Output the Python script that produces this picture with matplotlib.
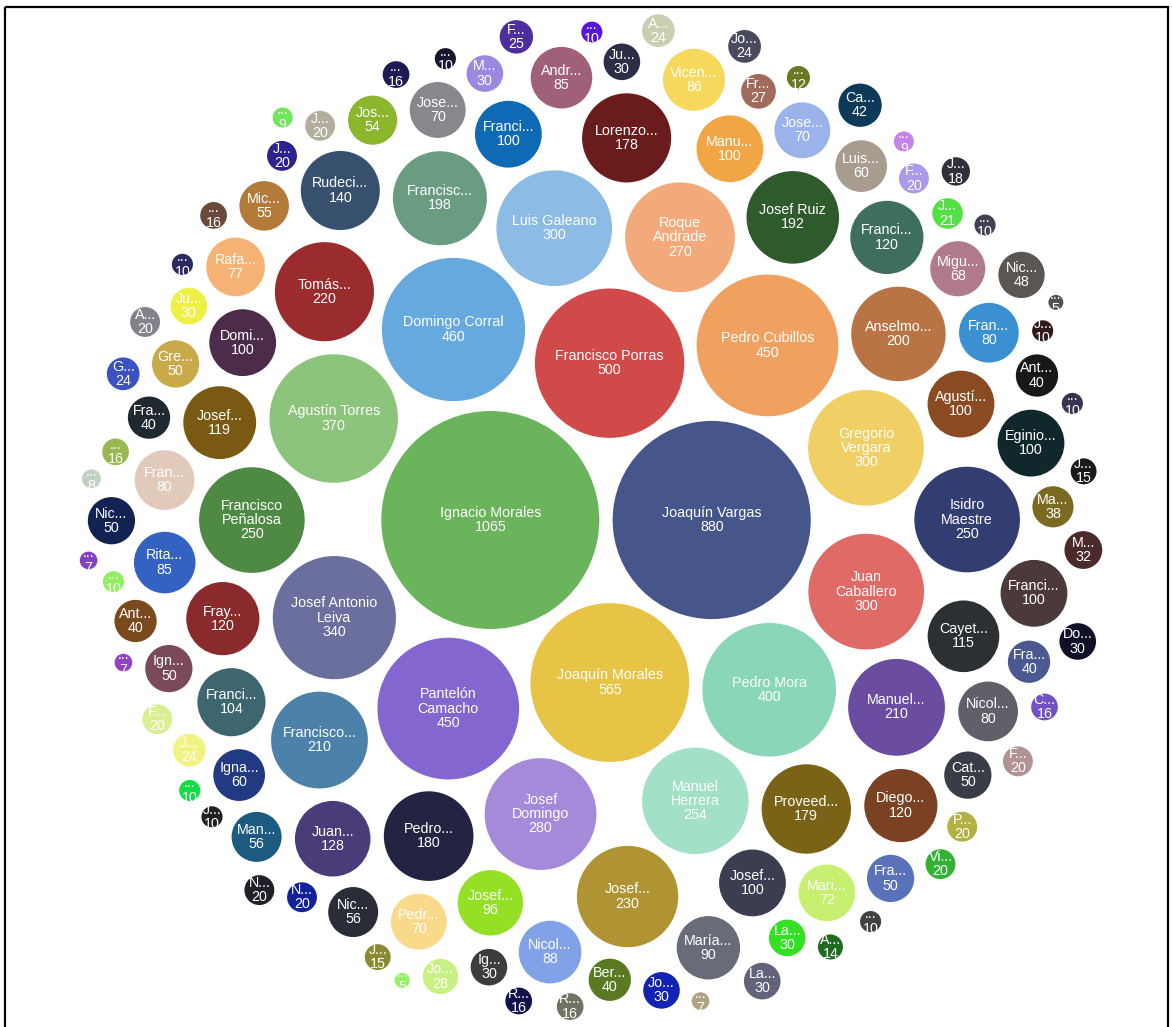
import numpy as np
import matplotlib.pyplot as plt
from matplotlib.patches import Circle, Rectangle

# datos: etiqueta visible, valor, color (empates en el orden original)
nombres = [
    "Ignacio Morales", "Joaquín Vargas", "Joaquín Morales", "Francisco Porras",
    "Domingo Corral", "Pantelón\nCamacho", "Pedro Cubillos", "Pedro Mora",
    "Agustín Torres", "Josef Antonio\nLeiva", "Gregorio\nVergara", "Juan\nCaballero",
    "Luis Galeano", "Josef\nDomingo", "Roque\nAndrade", "Manuel\nHerrera",
    "Francisco\nPeñalosa", "Isidro\nMaestre", "Josef...", "Tomás...",
    "Francisco...", "Manuel...", "Anselmo...", "Francisc...", "Josef Ruiz",
    "Pedro...", "Proveed...", "Lorenzo...", "Rudeci...", "Juan...",
    "Diego...", "Franci...", "Fray...", "Josef...", "Cayet...", "Franci...",
    "Agustí...", "Domi...", "Eginio...", "Franci...", "Franci...", "Josef...", "Manu...",
    "Josef...", "María...", "Nicol...", "Vicen...", "Andr...", "Rita...",
    "Fran...", "Fran...", "Nicol...", "Rafa...", "Mari...",
    "Jose...", "Jose...", "Pedr...", "Migu...", "Igna...", "Luis...",
    "Man...", "Nic...", "Mic...", "Jos...",
    "Cat...", "Fra...", "Gre...", "Ign...", "Nic...", "Nic...", "Ca...",
    "Ant...", "Ant...", "Ber...", "Fra...", "Fra...", "Ma...", "M...",
    "Do...", "Ig...", "Jo...", "Ju...", "La...", "Ju...", "La...", "M...",
    "Jo...", "Fr...", "F...", "A...", "Jo...", "G...", "J...", "J...",
    "A...", "F...", "F...", "P...", "J...", "J...", "N...", "N...", "F...", "Vi...",
    "J...", "C...", "...", "...", "...", "R...", "R...", "J...", "J...", "A...", "...",
    "...", "J...", "J...", "...", "...", "...", "...", "...", "...", "...",
    "...", "...", "...", "...", "...", "...", "...", "...",
]
valores = [
    1065, 880, 565, 500, 460, 450, 450, 400, 370, 340, 300, 300,
    300, 280, 270, 254, 250, 250, 230, 220, 210, 210, 200, 198, 192,
    180, 179, 178, 140, 128, 120, 120, 120, 119, 115, 104,
    100, 100, 100, 100, 100, 100, 100,
    96, 90, 88, 86, 85, 85, 80, 80, 80, 77, 72,
    70, 70, 70, 68, 60, 60, 56, 56, 55, 54,
    50, 50, 50, 50, 50, 48, 42, 40, 40, 40, 40, 40, 38, 32,
    30, 30, 30, 30, 30, 30, 30, 30,
    28, 27, 25, 24, 24, 24, 24, 21,
    20, 20, 20, 20, 20, 20, 20, 20, 20, 20,
    18, 16, 16, 16, 16, 16, 16, 15, 15, 14, 12,
    10, 10, 10, 10, 10, 10, 10, 10, 10, 10,
    9, 9, 8, 7, 7, 7, 5, 5,
]
colores = [
    "#6ab45c", "#46568a", "#e8c446", "#d04a4a", "#66a9df", "#8466d0", "#f0a160", "#8ad6b8",
    "#8cc47c", "#6a6f9e", "#f0d064", "#e06a66", "#8cbce6", "#a48ad8", "#f2aa7a", "#a2e0c8",
    "#4e8a44", "#323e72", "#b09434", "#9a2c2e", "#4c82aa", "#6a4ca0", "#b87444", "#6a9c82",
    "#2e5a2c", "#222442", "#7a6216", "#6a1c1c", "#36506e", "#4a3c78",
    "#7a4222", "#3e6e5c", "#8a2a2c", "#7a5a12", "#2c3032", "#3e6670",
    "#8a4a22", "#4c2c4a", "#10282c", "#4c3a3a", "#0e6ab4", "#3a3e50", "#f2a544",
    "#94e024", "#686c78", "#82a2e8", "#f6d85a", "#a0607a", "#3462c2",
    "#e2cabb", "#3a90d0", "#606068", "#f6b274", "#c8f070",
    "#86888c", "#9cb2ea", "#f8da8a", "#b07a8a", "#223a82", "#a89c8e",
    "#1c5a82", "#2a2c38", "#b47a3a", "#8cb62c",
    "#3a3c48", "#5a72ba", "#c8aa4a", "#7a4a5a", "#122252", "#5c5652", "#0e3a5a",
    "#181818", "#7a4a1c", "#5a7a22", "#202830", "#4a5a90", "#7a6a22", "#4c2a2a",
    "#101028", "#3c3c3c", "#1222b2", "#2c2e46", "#32e024", "#eef044", "#62627a", "#9c88e0",
    "#c8f082", "#a26a5c", "#4c2e9c", "#cacfb2", "#4a4a5e", "#3a52c2", "#f2f282", "#52e044",
    "#82828a", "#aa9aea", "#d8f092", "#b2b244", "#2c2290", "#b2ad9c", "#12229a", "#202028",
    "#b29292", "#32b232",
    "#303038", "#7252c2", "#9ab852", "#6a4a3a", "#1e1a52", "#727262", "#10124e",
    "#8a8a32", "#1a1a1a", "#206a22", "#6a7a22",
    "#161630", "#301a1a", "#222222", "#2a2a62", "#424242", "#5a16d8", "#3a3250",
    "#90f062", "#12e042", "#424252",
    "#c482ea", "#70e65c", "#c2d2c2", "#8242c2", "#b0a282", "#9242c2", "#92f262", "#525252",
]


# empaquetado de círculos (mismo método que d3.packSiblings)
def colocar(b, a, c):
    dx, dy = b[0] - a[0], b[1] - a[1]
    d2 = dx * dx + dy * dy
    if d2:
        a2 = (a[2] + c[2]) ** 2
        b2 = (b[2] + c[2]) ** 2
        if a2 > b2:
            x = (d2 + b2 - a2) / (2 * d2)
            y = np.sqrt(max(0, b2 / d2 - x * x))
            c[0] = b[0] - x * dx - y * dy
            c[1] = b[1] - x * dy + y * dx
        else:
            x = (d2 + a2 - b2) / (2 * d2)
            y = np.sqrt(max(0, a2 / d2 - x * x))
            c[0] = a[0] + x * dx - y * dy
            c[1] = a[1] + x * dy + y * dx
    else:
        c[0] = a[0] + c[2]
        c[1] = a[1]


def se_cortan(a, b):
    dr = a[2] + b[2] - 1e-6
    dx, dy = b[0] - a[0], b[1] - a[1]
    return dr > 0 and dr * dr > dx * dx + dy * dy


def empaquetar(C):
    def puntaje(i):
        a, b = C[i], C[sig[i]]
        ab = a[2] + b[2]
        x = (a[0] * b[2] + b[0] * a[2]) / ab
        y = (a[1] * b[2] + b[1] * a[2]) / ab
        return x * x + y * y

    n = len(C)
    C[0][0], C[0][1] = 0, 0
    C[0][0], C[1][0], C[1][1] = -C[1][2], C[0][2], 0
    colocar(C[1], C[0], C[2])
    sig = {0: 1, 1: 2, 2: 0}
    ant = {1: 0, 2: 1, 0: 2}
    a, b = 0, 1
    i = 3
    while i < n:
        colocar(C[a], C[b], C[i])
        c = i
        j, k = sig[b], ant[a]
        sj, sk = C[b][2], C[a][2]
        choque = False
        while True:
            if sj <= sk:
                if se_cortan(C[j], C[c]):
                    b = j
                    sig[a], ant[b] = b, a
                    choque = True
                    break
                sj += C[j][2]
                j = sig[j]
            else:
                if se_cortan(C[k], C[c]):
                    a = k
                    sig[a], ant[b] = b, a
                    choque = True
                    break
                sk += C[k][2]
                k = ant[k]
            if j == sig[k]:
                break
        if choque:
            continue
        ant[c], sig[c] = a, b
        sig[a] = c
        ant[b] = c
        b = c
        aa = puntaje(a)
        cc = sig[c]
        while cc != b:
            ca = puntaje(cc)
            if ca < aa:
                a, aa = cc, ca
            cc = sig[cc]
        b = sig[a]
        i += 1
    return C


orden = sorted(range(len(valores)), key=lambda i: -valores[i])
radios = np.sqrt(np.asarray([valores[i] for i in orden], dtype=float))
C = empaquetar([[0.0, 0.0, r + 2.0] for r in radios])
px = np.array([p[0] for p in C])
py = np.array([p[1] for p in C])

# escala px por unidad y centro a partir de los dos círculos mayores
escala = 3.34
cx = 601 - escala * (px[0] + px[1]) / 2
cy = 520 - escala * (py[0] + py[1]) / 2

fig = plt.figure(figsize=(11.72, 10.27), dpi=100)
ax = fig.add_axes([0, 0, 1, 1])
ax.set_xlim(0, 1172)
ax.set_ylim(1027, 0)
ax.axis('off')

for n, i in enumerate(orden):
    x, y = cx + escala * px[n], cy + escala * py[n]
    circ = Circle((x, y), escala * radios[n], facecolor=colores[i], edgecolor='none')
    ax.add_patch(circ)
    t = ax.text(x, y, f"{nombres[i]}\n{valores[i]}", ha='center', va='center',
                color='white', fontsize=10.3, family='Liberation Sans', linespacing=1.02, clip_on=True)
    t.set_clip_path(circ)

ax.add_patch(Rectangle((5, 7), 1163, 1040, fill=False, edgecolor='black', linewidth=1.6, clip_on=False))

fig.savefig('out.png', dpi=100)
